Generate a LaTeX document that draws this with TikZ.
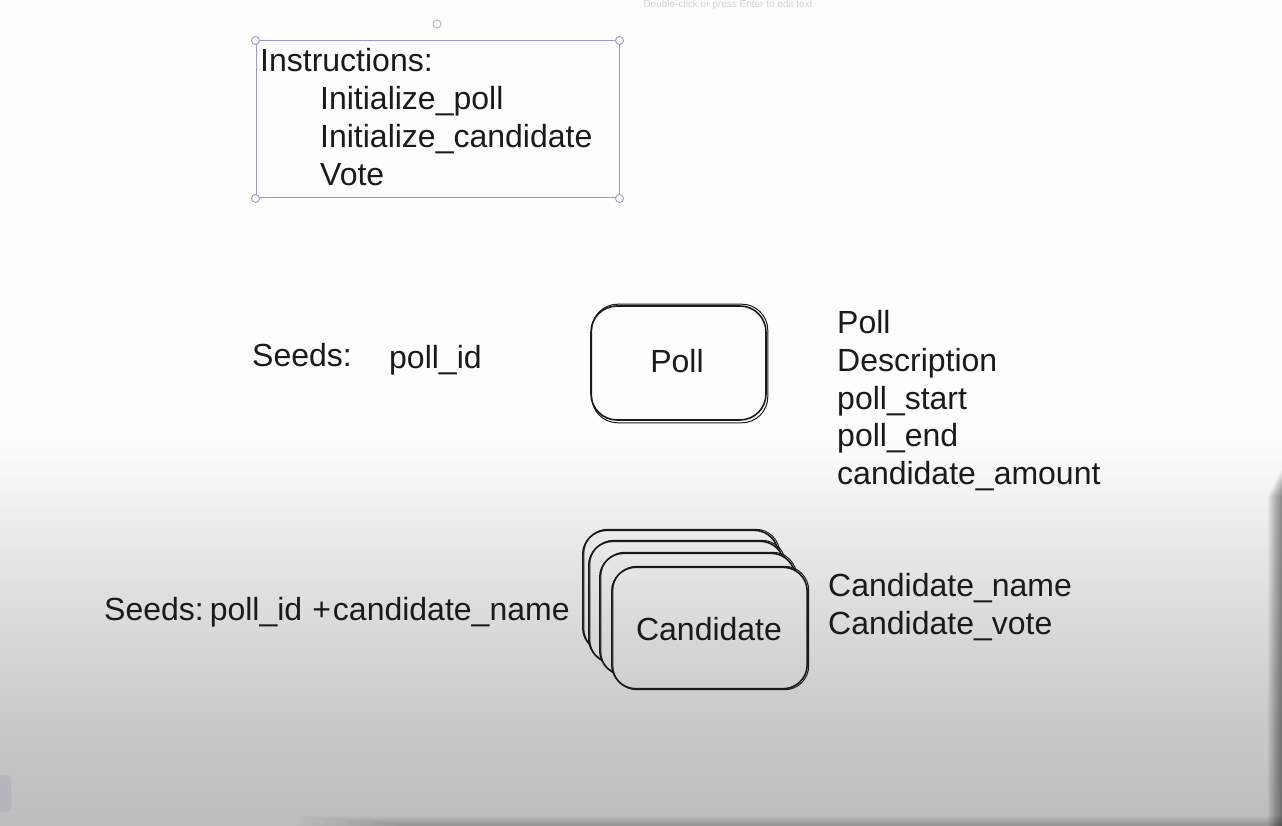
\documentclass[tikz,border=0pt]{standalone}
\usepackage{fontspec}
\newfontfamily\hand{Liberation Sans}
\definecolor{sel}{HTML}{9D98D0}
\definecolor{ga}{HTML}{FDFDFD}
\definecolor{gb}{HTML}{DEDEDE}
\definecolor{gc}{HTML}{C9C9C9}
\definecolor{gd}{HTML}{BCBCBC}
\definecolor{ink}{HTML}{1A1A1A}
\definecolor{tab}{HTML}{B3B3BB}
\pgfdeclareverticalshading{bgsh}{100bp}{color(0bp)=(gd); color(25bp)=(gd); color(31.4bp)=(gc); color(38.7bp)=(gb); color(48.4bp)=(ga); color(100bp)=(ga)}
\tikzset{
  hw/.style={anchor=base west, inner sep=0pt, text=ink, font=\hand\fontsize{32}{38}\selectfont},
  sk/.style={draw=ink, line width=1.6pt},
  skb/.style={draw=ink, line width=1.0pt},
  cand/.style={rectangle, minimum width=195pt, minimum height=121pt, inner sep=0pt},
  handle/.style={circle, draw=sel, fill=white, line width=0.9pt, minimum size=8pt, inner sep=0pt},
}
\begin{document}
\begin{tikzpicture}[x=1pt,y=-1pt]
\useasboundingbox (0,0) rectangle (1282,826);
\shade[shading=bgsh] (0,0) rectangle (1282,826);
% screen artefacts: soft shadow on the right edge, darker strip at the bottom
\foreach \i in {0,...,13}{
  \fill[black, opacity=0.035] (1268+\i,{496-2*\i}) rectangle (1282,826);
}
\foreach \i in {0,...,9}{
  \fill[black, opacity=0.018] ({300+12*\i},{816+\i}) rectangle (1282,826);
}
\fill[tab, opacity=0.8, rounded corners=4pt] (-6,775) rectangle (11,812);
% hint
\node[anchor=base, inner sep=0pt, text=gray!35, font=\hand\fontsize{10}{12}\selectfont] (hint) at (728,8) {Double-click or press Enter to edit text};
% selection frame
\node[draw=sel, line width=1pt, minimum width=363pt, minimum height=157pt, inner sep=0pt] (selbox) at (437.5,119.5) {};
\node[handle] (h1) at (selbox.north west) {};
\node[handle] (h2) at (selbox.north east) {};
\node[handle] (h3) at (selbox.south west) {};
\node[handle] (h4) at (selbox.south east) {};
\node[circle, draw=gray!60, fill=white, line width=0.9pt, minimum size=8pt, inner sep=0pt] (rot) at (437,24) {};
% instructions
\node[hw] (ins) at (260,72) {Instructions:};
\node[hw] (i1) at (320,110) {Initialize\_poll};
\node[hw] (i2) at (320,148) {Initialize\_candidate};
\node[hw] (i3) at (320,186) {Vote};
% poll
\node[hw] (seeds1) at (252,366) {Seeds:};
\node[hw] (pid) at (389,368) {poll\_id};
\node[sk, rectangle, rounded corners=26pt, minimum width=175pt, minimum height=114pt, inner sep=0pt] (poll) at (678.5,363) {};
\draw[skb, rounded corners=26pt] ([shift={(1.5,2)}]poll.south west) rectangle ([shift={(1,-1)}]poll.north east);
\node[hw, anchor=base] (polllbl) at (677,372) {Poll};
\node[hw] (f1) at (837,333) {Poll};
\node[hw] (f2) at (837,371) {Description};
\node[hw] (f3) at (837,409) {poll\_start};
\node[hw] (f4) at (837,446) {poll\_end};
\node[hw] (f5) at (837,484) {candidate\_amount};
% candidates
\node[hw] (seeds2) at (104,620) {Seeds:\hspace{6pt}poll\_id\hspace{10pt}+\hspace{2pt}candidate\_name};
\path node[cand] (cA) at (680.5,591) {}
      node[cand] (cB) at (686.5,602) {}
      node[cand] (cC) at (697.5,614) {}
      node[cand] (cD) at (709.5,628) {};
\foreach \n in {cA,cB,cC,cD}{
  \begin{scope}
    \clip[rounded corners=24pt] (\n.north west) rectangle (\n.south east);
    \shade[shading=bgsh] (0,0) rectangle (1282,826);
  \end{scope}
  \draw[sk, rounded corners=24pt] (\n.north west) rectangle (\n.south east);
  \draw[skb, rounded corners=24pt] ([shift={(1,-1)}]\n.north west) rectangle ([shift={(1.5,1)}]\n.south east);
}
\node[hw, anchor=base] (candlbl) at (709,640) {Candidate};
\node[hw] (g1) at (828,596) {Candidate\_name};
\node[hw] (g2) at (828,634) {Candidate\_vote};
\end{tikzpicture}
\end{document}
